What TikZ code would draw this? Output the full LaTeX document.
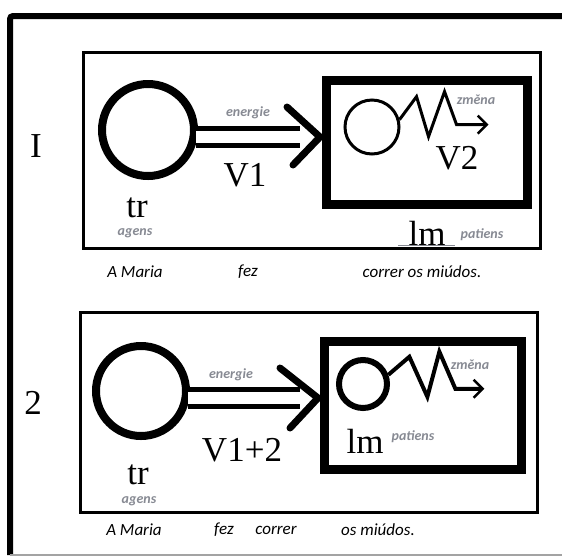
\documentclass[tikz,border=0pt]{standalone}
\usepackage{fontspec}
\setmainfont{Liberation Serif}
\newfontfamily\glossfont{Carlito}
\usetikzlibrary{arrows.meta, positioning, calc}
\definecolor{ink}{HTML}{000000}
\definecolor{muted}{HTML}{878A93}
\definecolor{rule}{HTML}{A3A3A3}
\tikzset{
  %
  frame/.style={draw=ink, line width=6pt, rounded corners=3pt},
  footrule/.style={draw=rule, line width=1.5pt},
  panel/.style={draw=ink, line width=3pt},
  lmbox/.style={draw=ink, line width=9pt, inner sep=0pt},
  %
  trring/.style={circle, draw=ink, line width=8pt, inner sep=0pt},
  lmring/.style={circle, draw=ink, inner sep=0pt},
  %
  shaft/.style={draw=ink, line width=5pt, double=white, double distance=12pt},
  barb/.style={draw=ink, line width=7pt, line cap=round},
  spring/.style={draw=ink, line join=miter,
                 -{Straight Barb[length=9pt, width=18pt, line width=2.5pt]}},
  underline/.style={draw=muted, line width=0.8pt},
  %
  big/.style={font=\fontsize{35}{35}\selectfont, inner sep=0pt},
  lbl/.style={font=\glossfont\bfseries\itshape\fontsize{14}{14}\selectfont,
              text=muted, inner sep=0pt},
  gloss/.style={font=\glossfont\itshape\fontsize{17}{17}\selectfont, inner sep=0pt},
}
\begin{document}
\begin{tikzpicture}[x=1pt, y=-1pt]
  \useasboundingbox (0,0) rectangle (562,558);

  % frame
  \draw[frame] (562,16) -- (10,16) -- (10,555);
  \draw[footrule] (10,555) -- (562,555);

  % ---------------- 1: A Maria fez correr os miudos
  \draw[panel] (83,52) rectangle (540,248);
  \node[big] (n1) at (36,146) {I};

  \node[trring, minimum size=92pt] (tr1) at (148,130) {};
  \node[lmbox, minimum width=201pt, minimum height=124pt] (lm1) at (426.5,142) {};
  \node[lmring, line width=3pt, minimum size=54pt] (c1) at (372,127) {};

  \coordinate (tip1) at (320,137);
  \draw[shaft] ($(tr1.east |- tip1)+(-2,0)$) -- ($(tip1)+(-20,0)$);
  \draw[barb] ($(tip1)+(-33,-30)$) -- (tip1) -- ($(tip1)+(-27,28)$);
  \draw[spring, line width=3pt] (c1.15) -- ++(17,-23) -- ++(12,40) -- ++(16,-45)
    -- ++(12,33) -- ++(32,0);

  \node[lbl] (en1) at (248,113) {energie};
  \node[big] (v1) at (245,175) {V1};
  \node[big] (trl1) at (137,208) {tr};
  \node[lbl] (ag1) at (135,233) {agens};
  \node[big] (v2) at (457,158) {V2};
  \node[lbl] (zm1) at (476,100) {změna};
  \node[big] (lml1) at (427,233) {lm};
  \draw[underline] ($(lml1.south west)+(-10,0)$) -- ($(lml1.south east)+(9,0)$);
  \node[lbl] (pa1) at (482,235) {patiens};

  \node[gloss] (g1a) at (135,272) {A Maria};
  \node[gloss] (g1b) at (248,272) {fez};
  \node[gloss] (g1c) at (422,272) {correr os miúdos.};

  % ---------------- 2: A Maria fez-correr os miudos
  \draw[panel] (80,312) rectangle (537,512);
  \node[big] (n2) at (33,403) {2};

  \node[trring, minimum size=90pt] (tr2) at (141,391) {};
  \node[lmbox, minimum width=197pt, minimum height=128pt] (lm2) at (422.5,405) {};
  \node[lmring, line width=6pt, minimum size=48pt] (c2) at (363,384) {};

  \coordinate (tip2) at (318,398);
  \draw[shaft] ($(tr2.east |- tip2)+(-2,0)$) -- ($(tip2)+(-18,0)$);
  \draw[barb] ($(tip2)+(-38,-30)$) -- (tip2) -- ($(tip2)+(-28,30)$);
  \draw[spring, line width=4pt] (c2.20) -- ++(21,-18) -- ++(18,40) -- ++(12,-45)
    -- ++(16,37) -- ++(29,0);

  \node[lbl] (en2) at (231,375) {energie};
  \node[big] (v12) at (242,450) {V1+2};
  \node[big] (trl2) at (138,475) {tr};
  \node[lbl] (ag2) at (139,501) {agens};
  \node[lbl] (zm2) at (470,365) {změna};
  \node[big] (lml2) at (365,441) {lm};
  \node[lbl] (pa2) at (413,437) {patiens};

  \node[gloss] (g2a) at (134,530) {A Maria};
  \node[gloss] (g2b) at (224,530) {fez};
  \node[gloss] (g2c) at (276,530) {correr};
  \node[gloss] (g2d) at (378,530) {os miúdos.};
\end{tikzpicture}
\end{document}
